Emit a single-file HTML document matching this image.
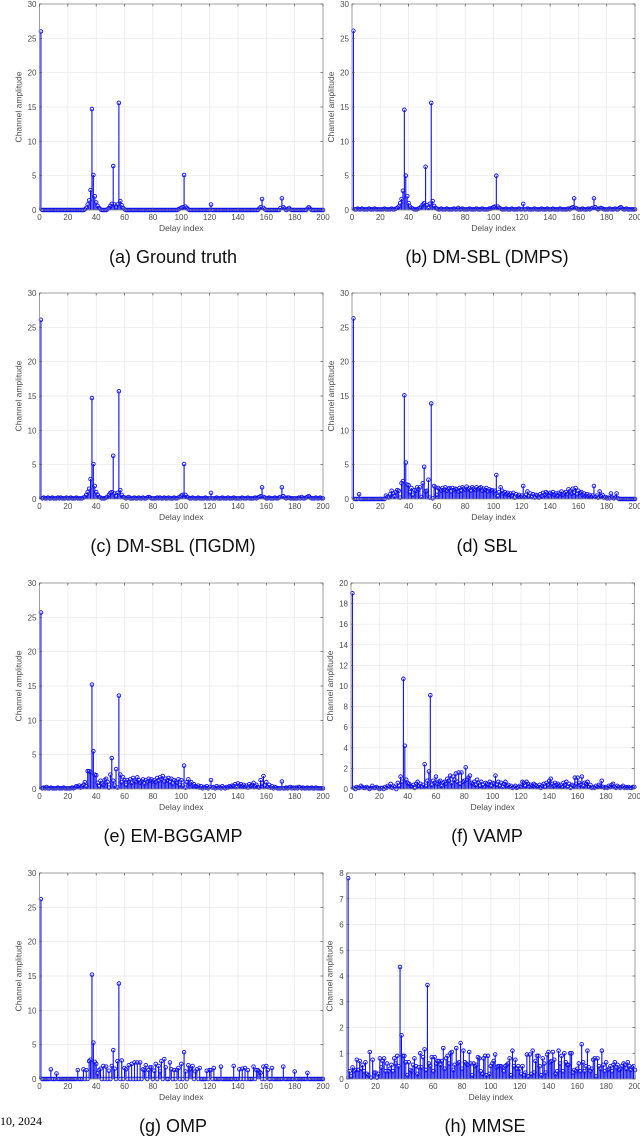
<!DOCTYPE html>
<html><head><meta charset="utf-8"><style>
html,body{margin:0;padding:0;background:#fff;}
svg{display:block;}
</style></head><body>
<svg id="fig" width="640" height="1137" viewBox="0 0 640 1137" xmlns="http://www.w3.org/2000/svg">
<text x="0" y="1125" font-family="Liberation Serif, serif" font-size="12" fill="#000">10, 2024</text>
</svg>
<script>
const xTicks = [0,20,40,60,80,100,120,140,160,180,200];
const yTicks30 = [0,5,10,15,20,25,30];
const yTicks20 = [0,2,4,6,8,10,12,14,16,18,20];
const yTicks8 = [0,1,2,3,4,5,6,7,8];
const captions = ["(a) Ground truth","(b) DM-SBL (DMPS)","(c) DM-SBL (\u03A0GDM)","(d) SBL","(e) EM-BGGAMP","(f) VAMP","(g) OMP","(h) MMSE"];

const groundTruth = [26,0,0,0,0,0,0,0,0,0, 0,0,0,0,0,0,0,0,0,0, 0,0,0,0,0,0,0,0,0,0,
 0,.1,.3,.8,1.4,2.9,14.7,5.1,2.0,1.1, .6,.3,.1,0,0,0,0,.1,.3,.6, .9,6.4,.8,.4,.8,15.6,1.3,.7,.3,.1,
 0,0,0,0,0,0,0,0,0,0, 0,0,0,0,0,0,0,0,0,0, 0,0,0,0,0,0,0,0,0,0, 0,0,0,0,0,0,0,.1,.2,.3,
 .4,5.1,.5,.3,.1,0,0,0,0,0, 0,0,0,0,0,0,0,0,0,0, .8,0,0,0,0,0,0,0,0,0, 0,0,0,0,0,0,0,0,0,0,
 0,0,0,0,0,0,0,0,0,0, 0,0,0,0,.2,.4,1.6,.3,.1,0, 0,0,0,0,0,0,0,0,0,.3, 1.7,.4,.2,0,.1,.3,.1,0,0,0,
 0,0,0,0,0,0,0,0,.2,.4, .2,0,0,0,0,0,0,0,0,0];
const dmps = [26.1,.1,.1,.2,.1,.1,.2,.1,.1,.1, .1,.2,.1,.1,.1,.2,.1,.1,.1,.1, .1,.1,.2,.1,.1,.1,.1,.2,.1,.1,
 .2,.3,.5,1.0,1.6,2.8,14.6,5.0,2.0,1.0, .5,.3,.2,.1,.1,.1,.2,.3,.5,.8, 1.0,6.3,.7,.3,.9,15.6,1.3,.6,.3,.2,
 .1,.1,.2,.1,.1,.1,.2,.1,.1,.1, .1,.2,.1,.1,.3,.1,.1,.2,.1,.1, .1,.1,.2,.1,.1,.1,.1,.2,.1,.1, .1,.2,.1,.1,.1,.1,.2,.2,.3,.4,
 .5,5.0,.5,.3,.2,.1,.1,.1,.2,.1, .1,.1,.2,.1,.1,.1,.1,.2,.1,.1, .9,.1,.1,.2,.1,.1,.1,.1,.2,.1, .1,.1,.1,.2,.1,.1,.1,.2,.1,.1,
 .1,.2,.1,.1,.1,.1,.2,.1,.1,.1, .1,.1,.2,.1,.3,.4,1.7,.3,.2,.1, .1,.1,.2,.1,.1,.1,.2,.1,.2,.3, 1.7,.4,.2,.1,.2,.3,.2,.1,.1,.1,
 .1,.2,.1,.1,.1,.2,.1,.1,.3,.4, .2,.1,.1,.2,.1,.1,.1,.1,.1,.1];
const pigdm = [26.1,.1,.2,.1,.1,.2,.1,.1,.2,.1, .1,.1,.2,.1,.2,.1,.1,.1,.2,.1, .1,.2,.1,.1,.1,.2,.1,.1,.1,.1,
 .2,.3,.6,1.0,1.5,2.9,14.7,5.1,1.9,1.0, .6,.3,.2,.1,.1,.1,.2,.3,.6,.9, 1.0,6.3,.8,.4,.9,15.7,1.3,.6,.3,.2,
 .1,.2,.3,.1,.1,.1,.2,.1,.1,.2, .1,.1,.2,.1,.1,.2,.3,.2,.1,.1, .1,.1,.2,.1,.2,.1,.1,.2,.1,.1, .2,.1,.1,.1,.2,.1,.1,.2,.3,.5,
 .6,5.1,.6,.3,.2,.1,.1,.2,.1,.1, .1,.2,.1,.1,.1,.1,.2,.1,.1,.1, .9,.1,.1,.1,.2,.1,.1,.1,.2,.1, .1,.1,.2,.1,.1,.1,.2,.1,.1,.1,
 .1,.1,.2,.1,.1,.1,.2,.1,.1,.1, .1,.2,.1,.2,.3,.4,1.7,.3,.2,.1, .1,.2,.1,.1,.1,.2,.1,.1,.2,.3, 1.7,.4,.2,.1,.2,.2,.1,.1,.1,.1,
 .1,.1,.2,.1,.3,.1,.1,.2,.3,.4, .2,.1,.1,.1,.2,.1,.1,.2,.1,.1];
const sbl = [26.3,0,0,0,.7,0,0,0,0,0, 0,0,0,0,0,0,0,0,0,0, 0,0,0,.5,.3,.2,.7,1.2,.8,.4,
 1.0,1.3,1.2,.2,2.3,2.6,15.1,5.3,2.1,2.0, 1.0,1.6,.6,1.3,1.2,1.7,1.4,1.7,.3,2.3, 4.7,1.1,1.2,2.8,.2,13.9,.1,1.9,1.7,.6,
 1.6,1.4,1.2,1.6,1.3,1.7,1.2,1.5,1.6,1.1, 1.6,1.3,1.5,1.4,1.1,1.6,1.2,1.7,1.5,1.3, 1.8,1.4,1.6,1.2,1.7,1.5,1.3,1.7,1.4,1.6, 1.7,1.2,1.5,1.3,1.6,1.1,1.4,1.2,1.3,1.0,
 1.2,3.5,.4,1.0,1.7,1.2,.8,1.0,.7,.9, .6,.8,.5,.9,.2,.7,.4,.6,.3,.5, 1.9,.3,.6,1.1,.4,.8,.3,.7,.2,.6, .5,.2,.7,.4,.9,.6,1.0,.8,.5,.9,
 .7,1.0,.6,.8,.5,.9,.7,1.1,.6,.8, 1.0,.7,1.4,1.1,.8,1.5,.9,1.6,.7,1.2, .9,1.0,.6,.8,.5,.7,.4,.6,.3,.5, 1.9,.3,.5,.2,1.1,.4,.6,.2,.3,.1,
 .2,.1,.8,.2,.1,.2,.8,.1,0,0, 0,0,0,0,0,0,0,0,0,0];
const bggamp = [25.7,.1,.2,.1,.3,.1,.1,.2,.1,.1, .1,.1,.2,.1,.1,.1,.2,.1,.1,.1, .1,.1,.2,.1,.2,.4,.3,.5,.2,.4,
 .6,1.0,.4,2.6,2.6,2.5,15.2,5.5,2.1,2.0, .9,.4,1.2,.8,.6,1.3,1.5,1.0,.2,2.1, 4.5,1.2,.5,2.9,.2,13.6,2.1,1.0,1.7,1.3,
 .6,1.3,1.0,1.4,.9,1.6,1.2,1.0,1.7,1.3, .9,1.1,1.4,.8,1.3,1.0,1.5,1.2,1.4,1.1, 1.3,1.0,1.6,1.2,1.7,1.4,1.9,1.1,1.5,1.2, 1.6,1.0,1.5,.8,1.3,1.1,.9,1.4,.6,1.3,
 .5,3.4,.2,1.0,1.4,.8,1.0,.5,.7,.4, .3,.5,.2,.4,.1,.3,.2,.4,.1,.3, 1.3,.2,.3,.1,.4,.2,.3,.1,.4,.2, .1,.3,.2,.4,.3,.5,.4,.7,.3,.8,
 .5,.7,.4,.6,.3,.5,.2,.7,.4,.6, .9,.4,.6,.3,.2,1.3,.8,1.9,.5,1.0, .3,.6,.2,.4,.1,.3,.2,.1,.1,.1, 1.1,.1,.1,.2,.1,.2,.3,.1,.2,.1,
 .2,.1,.3,.2,.1,.2,.1,.1,.2,.1, .1,.2,.1,.1,.2,.1,.1,.1,.1,.1];
const vamp = [19.0,.1,0,.2,.1,.1,.3,.2,.1,.1, .2,.1,0,.1,.3,.1,.1,.2,.1,0, .1,.1,0,.2,.1,.3,.2,.5,.1,.3,
 .2,0,.6,.3,1.2,.7,10.7,4.2,.9,.6, .5,.3,.2,.4,.1,.5,.7,.3,.5,.2, .4,2.4,.3,.8,1.7,9.1,.4,.8,.6,1.2,
 .5,.7,.8,.3,.6,.7,.5,1.0,.8,1.3, .6,1.2,.9,1.5,.7,1.6,.5,1.6,.7,.8, 2.1,.9,1.1,1.3,.6,.5,.7,.4,.9,.6, .3,.7,.4,.2,.6,.5,.4,.7,.3,.6,
 .5,1.3,.4,.7,.3,.6,.2,.5,.7,.3, .4,.2,.3,.1,.2,.3,.1,.2,.3,.2, .7,.6,.3,.7,.5,.2,.4,.3,.5,.4, .3,.2,.4,.1,.3,.5,.2,.6,.4,.8,
 1.0,.5,.3,.6,.4,.5,.3,.4,.2,.6, .4,.7,.2,.5,.1,.4,.3,1.1,.5,1.1, .6,.4,1.2,.3,.6,.5,.7,.2,.4,.1, .2,.1,.3,.2,.4,.3,.8,.2,.1,.2,
 .1,.3,.2,.4,.5,.2,.1,.3,.2,.1, .2,.3,.1,.2,.1,.2,.1,.1,.2,.2];
const omp = [26.2,0,0,0,0,0,0,1.4,0,0, 0,.8,0,0,0,0,0,0,0,0, 0,0,0,0,0,0,1.3,0,0,0,
 1.4,0,1.3,0,2.6,2.8,15.2,5.3,2.5,2.2, .8,1.3,1.5,0,1.9,0,1.8,0,1.2,0, 1.9,4.2,1.5,0,2.6,13.9,0,2.7,0,1.6,
 1.4,0,2.0,0,2.2,0,2.4,0,2.4,0, 2.4,0,1.4,1.3,2.0,0,1.3,1.7,1.7,0, 1.2,2.2,0,1.9,1.1,2.6,0,2.9,1.7,0, 0,2.4,1.4,0,1.3,0,1.3,1.6,0,2.2,
 0,3.9,1.1,0,2.0,1.4,1.5,1.9,0,1.1, 1.4,0,1.6,0,0,0,0,1.2,0,1.3, 1.3,0,1.6,0,0,0,0,1.8,0,0, 0,0,0,0,0,0,1.9,0,0,0,
 1.4,0,1.5,0,1.6,0,1.3,0,0,0, 1.8,0,1.3,1.3,1.1,.9,0,1.8,0,1.9, 1.3,0,0,1.6,0,0,0,0,0,0, 0,1.8,0,0,0,0,0,0,0,1.1,
 0,0,0,0,0,0,0,0,.9,0, 0,0,0,0,0,0,0,0,0,0];
const mmse = [7.8,.3,.1,.45,.3,.35,.75,.35,.7,.4, .55,.3,.65,.2,.15,1.05,.05,.75,.25,.25, .05,.2,.8,.45,.7,.8,.3,.6,.3,.4,
 .55,.3,.8,.6,.9,.5,4.35,1.7,.9,.9, .65,.15,.65,.35,.3,.55,.8,.5,.2,.45, 1.0,.45,.85,1.15,.35,3.65,.6,.5,.85,.3,
 .85,.6,.7,.7,.55,.7,1.2,.4,.8,.9, .6,1.0,1.05,.35,.55,1.2,.6,.65,1.4,.4, 1.1,.65,.6,.55,1.05,.6,.15,.6,.5,.55, .85,.8,.3,.2,.8,.9,.15,.9,.2,.5,
 .6,.7,.95,.45,.5,.5,.5,.45,.3,.5, .55,.6,.8,.15,1.1,.5,.75,.4,.5,.4, .2,.5,.15,.25,.95,.1,.95,.2,1.1,.25, .7,.9,.9,.5,.15,.8,.6,.25,.95,1.05,
 .65,.7,1.05,.75,.2,.3,1.1,.6,.9,.3, 1.0,.65,.55,.55,1.0,1.0,.25,.35,.3,.4, .6,.3,1.35,.65,.3,.5,1.1,.45,.3,.4, .75,.8,.1,.8,.5,.4,1.1,.55,.3,.65,
 .35,.4,.5,.3,.55,.65,.45,.55,.35,.4, .5,.6,.55,.4,.65,.5,.35,.45,.5,.35];

const NS = "http://www.w3.org/2000/svg";
const svg = document.getElementById('fig');
function mk(tag, attrs, parent){ const e=document.createElementNS(NS,tag); for(const k in attrs) e.setAttribute(k,attrs[k]); (parent||svg).appendChild(e); return e; }

const panels = [
 {series:groundTruth, yt:yTicks30, L:39.5, R:323, T:4, B:210, cx:173},
 {series:dmps, yt:yTicks30, L:352, R:635, T:4, B:210, cx:487},
 {series:pigdm, yt:yTicks30, L:39.5, R:323, T:293, B:499, cx:173},
 {series:sbl, yt:yTicks30, L:352, R:635, T:293, B:499, cx:487},
 {series:bggamp, yt:yTicks30, L:39.5, R:323, T:583, B:789, cx:173},
 {series:vamp, yt:yTicks20, L:351, R:634.3, T:583, B:789, cx:487},
 {series:omp, yt:yTicks30, L:39.5, R:323, T:873, B:1079, cx:173},
 {series:mmse, yt:yTicks8, L:346.7, R:635, T:873, B:1079, cx:485}
];
const FONT = "Liberation Sans, Arial, sans-serif";
const BLUE = '#1010f0';
panels.forEach((p, pi) => {
  const g = mk('g', {});
  
  
  const yMax = p.yt[p.yt.length-1];
  const xs = v => p.L + (v/200)*(p.R-p.L);
  const ys = v => p.B - (v/yMax)*(p.B-p.T);
  xTicks.forEach(t => { if(t>0 && t<200){ const l=mk('line',{x1:xs(t),x2:xs(t),y1:p.T,y2:p.B,stroke:'#e8e8e8','stroke-width':0.7},g);   }});
  p.yt.forEach(t => { if(t>0 && t<yMax){ const l=mk('line',{x1:p.L,x2:p.R,y1:ys(t),y2:ys(t),stroke:'#e8e8e8','stroke-width':0.7},g);   }});
  p.series.forEach((v, i) => {
    const x = xs(i+1), y = ys(v);
    const s = mk('line',{x1:x,x2:x,y1:p.B,y2:y,stroke:BLUE,'stroke-width':1.1},g);
    
    
    const c = mk('circle',{cx:x,cy:y,r:1.8,fill:'none',stroke:BLUE,'stroke-width':0.9},g);
    
    
  });
  const box = mk('rect',{x:p.L,y:p.T,width:p.R-p.L,height:p.B-p.T,fill:'none',stroke:'#8a8a8a','stroke-width':0.8},g);
  
  
  xTicks.forEach(t => {
    mk('line',{x1:xs(t),x2:xs(t),y1:p.B,y2:p.B-2.5,stroke:'#555','stroke-width':0.7},g);
    mk('line',{x1:xs(t),x2:xs(t),y1:p.T,y2:p.T+2.5,stroke:'#555','stroke-width':0.7},g);
    const tx = mk('text',{x:xs(t),y:p.B+10,'font-size':8,'font-family':FONT,fill:'#4d4d4d','text-anchor':'middle'},g);
    
    
    tx.textContent = t;
  });
  p.yt.forEach(t => {
    mk('line',{x1:p.L,x2:p.L+2.5,y1:ys(t),y2:ys(t),stroke:'#555','stroke-width':0.7},g);
    mk('line',{x1:p.R,x2:p.R-2.5,y1:ys(t),y2:ys(t),stroke:'#555','stroke-width':0.7},g);
    const ty = mk('text',{x:p.L-3,y:ys(t)+3,'font-size':8,'font-family':FONT,fill:'#4d4d4d','text-anchor':'end'},g);
    
    
    ty.textContent = t;
  });
  const xl = mk('text',{x:(p.L+p.R)/2,y:p.B+21,'font-size':8.5,'font-family':FONT,fill:'#4d4d4d','text-anchor':'middle'},g);
  
  
  xl.textContent = 'Delay index';
  const ylx = p.L - (yMax>=10 ? 18 : 14), yly = (p.T+p.B)/2;
  const yl = mk('text',{x:ylx,y:yly,'font-size':8.5,'font-family':FONT,fill:'#4d4d4d','text-anchor':'middle',transform:'rotate(-90 '+ylx+' '+yly+')'},g);
  
  
  yl.textContent = 'Channel amplitude';
  const cap = mk('text',{x:p.cx,y:p.B+53,'font-size':18,'font-family':FONT,fill:'#111','text-anchor':'middle'},g);
  
  
  cap.textContent = captions[pi];
});
</script>
</body></html>
